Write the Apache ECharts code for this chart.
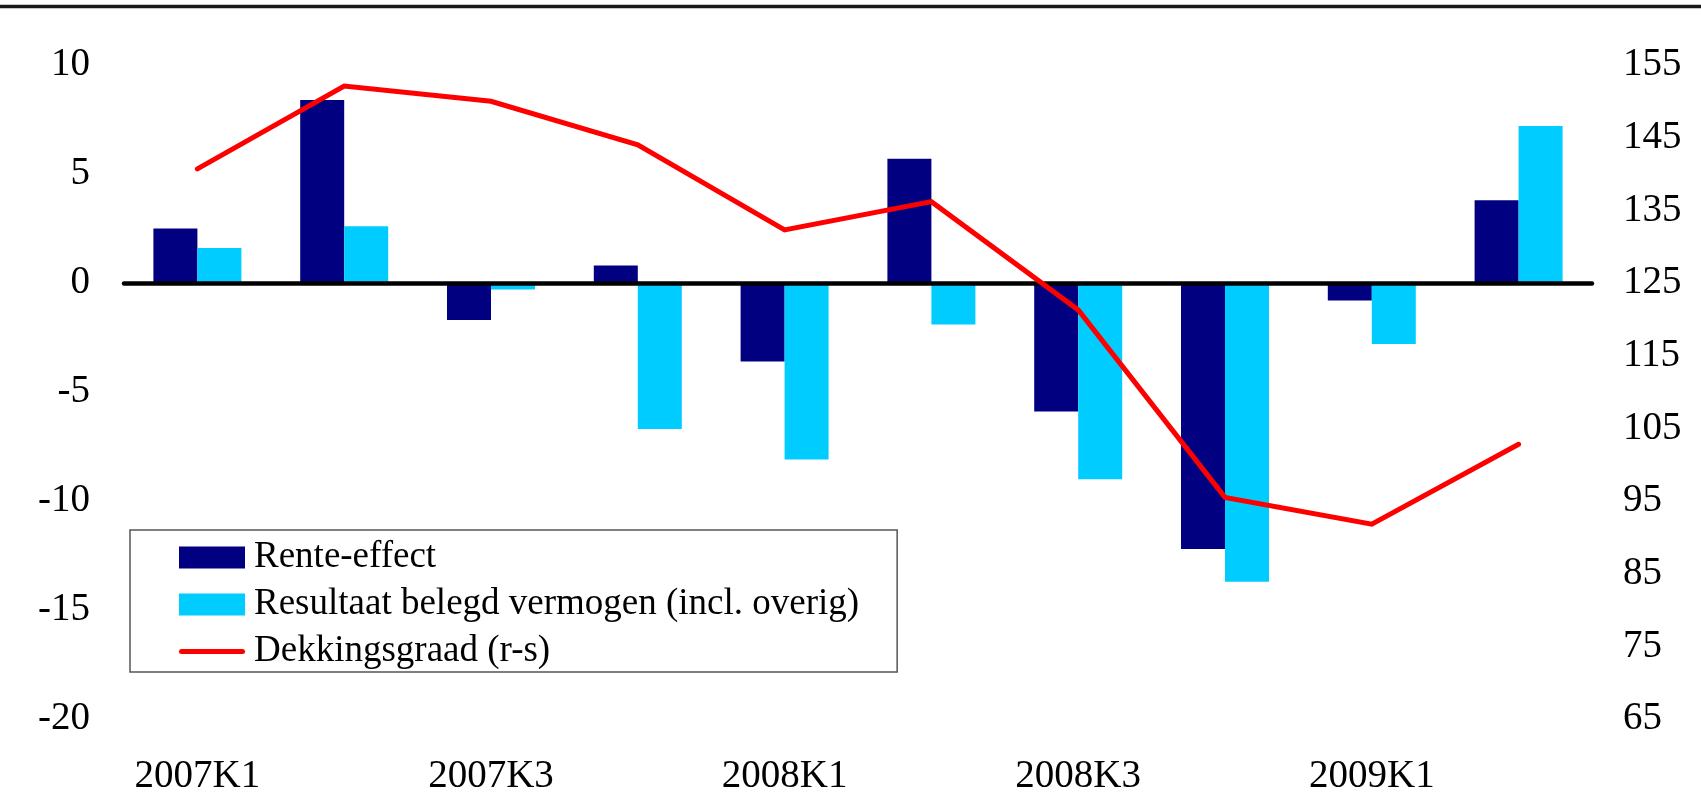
<!DOCTYPE html>
<html>
<head>
<meta charset="utf-8">
<script src="https://cdn.jsdelivr.net/npm/echarts@6/dist/echarts.min.js"></script>
<style>
  html, body { margin: 0; padding: 0; background: #fff; }
  #chart { width: 1701px; height: 798px; }
</style>
</head>
<body>
<div id="chart"></div>
<script>
const categories = ['2007K1','2007K2','2007K3','2007K4','2008K1','2008K2','2008K3','2008K4','2009K1','2009K2'];
const renteEffect = [2.5, 8.4, -1.7, 0.8, -3.6, 5.7, -5.9, -12.2, -0.8, 3.8];
const resultaatBelegd = [1.6, 2.6, -0.3, -6.7, -8.1, -1.9, -9.0, -13.7, -2.8, 7.2];
const dekkingsgraad = [140.7, 152.1, 150.0, 144.0, 132.3, 136.2, 121.3, 95.5, 91.8, 102.8];
const seriesNames = ['Rente-effect', 'Resultaat belegd vermogen (incl. overig)', 'Dekkingsgraad (r-s)'];

const FONT = "'Liberation Serif', 'Times New Roman', serif";
const chart = echarts.init(document.getElementById('chart'), null, { renderer: 'canvas' });
chart.setOption({
  animation: false,
  backgroundColor: '#ffffff',
  graphic: [{
    type: 'line',
    shape: { x1: 0, y1: 6.5, x2: 1701, y2: 6.5 },
    style: { stroke: '#1a1a1a', lineWidth: 3.5 }
  }],
  grid: { left: 124, right: 109, top: 65, bottom: 79 },
  legend: {
    orient: 'vertical',
    left: 130, top: 530,
    backgroundColor: '#fff',
    borderColor: '#555', borderWidth: 1.5,
    padding: [9, 38, 2, 49],
    itemWidth: 66, itemHeight: 22, itemGap: 10,
    symbolKeepAspect: true,
    textStyle: { fontFamily: FONT, fontSize: 37, color: '#000', padding: [0, 0, 0, 4] },
    data: [
      { name: seriesNames[0], icon: 'rect' },
      { name: seriesNames[1], icon: 'rect' },
      { name: seriesNames[2], icon: 'path://M2.5,0 L63.5,0 A2.5,2.5 0 0 1 63.5,5 L2.5,5 A2.5,2.5 0 0 1 2.5,0 Z' }
    ]
  },
  xAxis: {
    type: 'category',
    data: categories,
    axisLine: { show: false },
    axisTick: { show: false },
    axisLabel: { interval: 1, fontFamily: FONT, fontSize: 39, color: '#000', margin: 38 },
    splitLine: { show: false }
  },
  yAxis: [{
    type: 'value', min: -20, max: 10, interval: 5,
    axisLine: { show: false }, axisTick: { show: false }, splitLine: { show: false },
    axisLabel: { fontFamily: FONT, fontSize: 39, color: '#000', margin: 34 }
  }, {
    type: 'value', min: 65, max: 155, interval: 10, position: 'right',
    axisLine: { show: false }, axisTick: { show: false }, splitLine: { show: false },
    axisLabel: { fontFamily: FONT, fontSize: 39, color: '#000', margin: 31 }
  }],
  series: [{
    name: seriesNames[0], type: 'bar', data: renteEffect,
    barWidth: 44, barGap: '0%',
    itemStyle: { color: '#000080' },
    markLine: {
      silent: true, symbol: 'none', label: { show: false },
      lineStyle: { color: '#000', width: 4.5, type: 'solid', cap: 'round' },
      data: [{ yAxis: 0 }], z: 5
    }
  }, {
    name: seriesNames[1], type: 'bar', data: resultaatBelegd,
    barWidth: 44,
    itemStyle: { color: '#00CCFF' }
  }, {
    name: seriesNames[2], type: 'line', yAxisIndex: 1, data: dekkingsgraad,
    symbol: 'none', z: 10,
    lineStyle: { color: '#FF0000', width: 5, cap: 'round', join: 'miter' },
    itemStyle: { color: '#FF0000' }
  }]
});
</script>
</body>
</html>
